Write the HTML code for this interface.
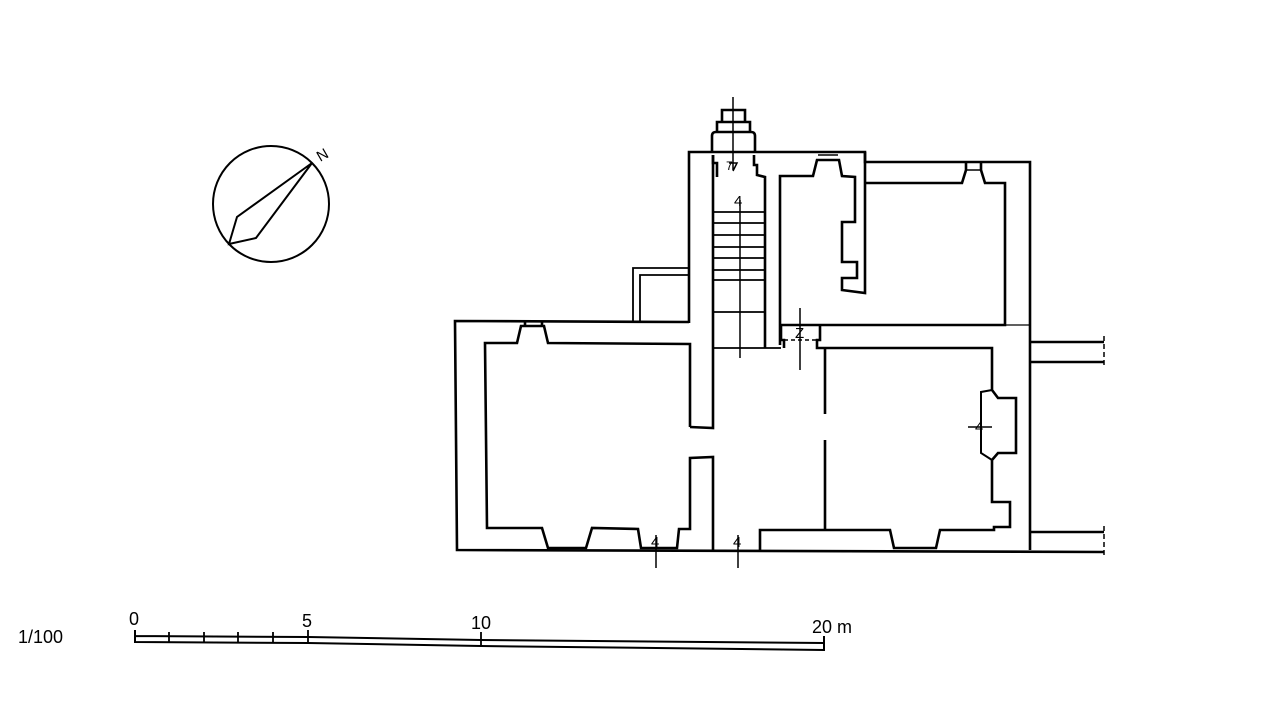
<!DOCTYPE html>
<html><head><style>
html,body{margin:0;padding:0;background:#fff;}
svg{display:block;}
text{font-family:"Liberation Sans",sans-serif;fill:#000;}
</style></head><body>
<svg width="1268" height="726" viewBox="0 0 1268 726" xmlns="http://www.w3.org/2000/svg">
<g fill="none" stroke="#000" stroke-width="2.6" stroke-linejoin="miter">
<circle cx="271" cy="204" r="58" stroke-width="2"/>
<polygon points="312,163 237,217 229,244 256,238" stroke-width="2"/>
<path d="M712,152 L712,136 Q712,132 716,132 L751,132 Q755,132 755,136 L755,152"/>
<path d="M717,132 L717,122 L750,122 L750,132"/>
<path d="M722,122 L722,110 L745,110 L745,122"/>
<path d="M689,323 L689,152 L865,152 L865,162 L1030,162 L1030,550"/>
<path d="M689,322 L455,321 L457,550 L1104,552"/>
<path d="M690,427 L690,344 L548,343 L544,326 L521,326 L517,343 L485,343 L487,528 L542,528 L548,548 L586,548 L592,528 L638,529 L641,548 L677,548 L679,529 L690,529 L690,458 L713,457 L713,550"/>
<path d="M690,427 L713,428 L713,155"/>
<path d="M525,322 L525,326 M542,322 L542,326"/>
<path d="M553,548 L583,548 M644,548 L674,548" stroke-width="1.5"/>
<path d="M713,155 L713,163 L717,163 L717,177 M754,155 L754,165 L757,165 L757,175 L765,177 L765,348"/>
<g stroke-width="1.8">
<path d="M713,212 L765,212 M713,223 L765,223 M713,235 L765,235 M713,247 L765,247 M713,258 L765,258 M713,270 L765,270 M713,280 L765,280 M713,312 L765,312 M713,348 L781,348"/>
</g>
<path d="M740,200 L740,358" stroke-width="1.5"/>
<path d="M733,97 L733,170 M729,163 L737,163 L733,171" stroke-width="1.5"/>
<path d="M780,345 L780,176 L813,176 L817,160 L839,160 L842,176 L855,177 L855,222 L842,222 L842,262 L857,262 L857,278 L842,278 L842,290 L865,293 L865,152"/>
<path d="M818,155 L838,155" stroke-width="1.5"/>
<path d="M865,183 L962,183 L966,170 L966,162 M981,162 L981,170 L985,183 L1005,183 L1005,325 L780,325"/>
<path d="M966,170 L981,170" stroke-width="1.5"/>
<path d="M1005,325 L1030,325" stroke-width="1.2"/>
<path d="M781,325 L781,340 L784,340 L784,348 M820,325 L820,340 L817,340 L817,348 L825,348"/>
<path d="M784,340 L817,340" stroke-width="1.5" stroke-dasharray="4,3"/>
<path d="M800,308 L800,370" stroke-width="1.5"/>
<path d="M825,348 L992,348 L992,390 L998,398 L1016,398 L1016,453 L998,453 L992,460 L992,502 L1010,502 L1010,527 L994,527 L994,530 L940,530 L936,548 L894,548 L890,530 L760,530 L760,550"/>
<path d="M992,390 L981,392 L981,453 L992,460" stroke-width="2"/>
<path d="M896,548 L934,548" stroke-width="1.5"/>
<path d="M825,348 L825,414 M825,440 L825,530"/>
<path d="M968,427 L992,427" stroke-width="1.5"/>
<path d="M1030,342 L1104,342 M1030,362 L1104,362 M1030,532 L1104,532"/>
<path d="M1104,336 L1104,368 M1104,526 L1104,558" stroke-width="1.5" stroke-dasharray="5,3"/>
<path d="M633,323 L633,268 L689,268 M640,323 L640,275 L689,275" stroke-width="1.8"/>
<path d="M656,535 L656,568 M738,535 L738,568" stroke-width="1.5"/>
<path d="M135,630 L135,643 M135,636 L308,637 L481,640 L824,643 M135,642 L308,643 L481,646 L824,650 M824,636 L824,651" stroke-width="2"/>
<path d="M169,632 L169,642 M204,632 L204,642 M238,632 L238,643 M273,632 L273,643 M308,630 L308,643 M481,632 L481,646" stroke-width="1.8"/>
</g>
<g font-size="15">
<text x="734" y="206">4</text>
<text x="795" y="338">Z</text>
<text x="651" y="547">4</text>
<text x="733" y="547">4</text>
<text x="975" y="432">4</text>
<text x="726" y="170" font-size="12">7</text>
<text x="316" y="160" transform="rotate(-30 322 153)">N</text>
</g>
<g font-size="18">
<text x="18" y="643">1/100</text>
<text x="129" y="625">0</text>
<text x="302" y="627">5</text>
<text x="471" y="629">10</text>
<text x="812" y="633">20 m</text>
</g>
</svg>
</body></html>
